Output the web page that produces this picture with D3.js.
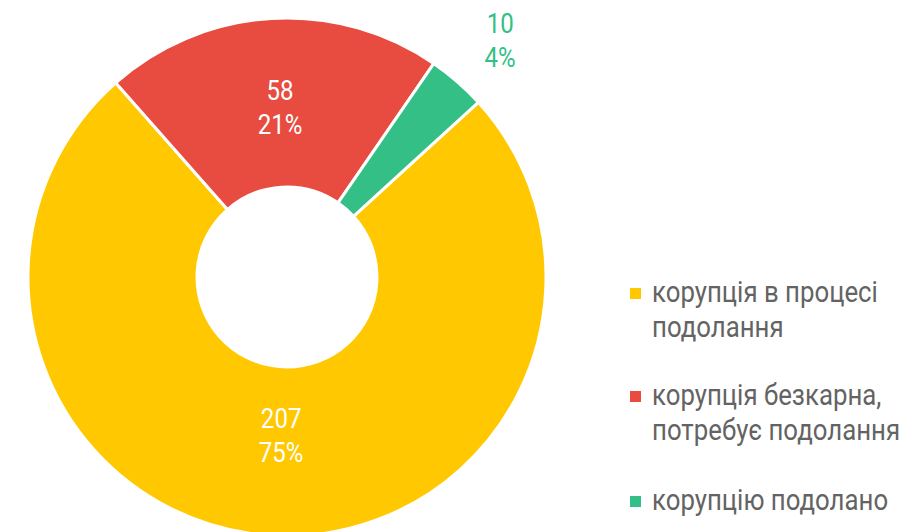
<!DOCTYPE html>
<html>
<head>
<meta charset="utf-8">
<script src="https://cdn.jsdelivr.net/npm/d3@7"></script>
<style>
  body { margin: 0; background: #fff; }
  text { font-family: Roboto, sans-serif; }
</style>
</head>
<body>
<div id="chart"></div>
<script>
// data
const categories = ['корупція в процесі подолання', 'корупція безкарна, потребує подолання', 'корупцію подолано'];
const legendLines = [['корупція в процесі', 'подолання'], ['корупція безкарна,', 'потребує подолання'], ['корупцію подолано']];
const values = [207, 58, 10];
const colors = ['#FFC800', '#E84B3F', '#33BF85'];

const width = 922, height = 532;
const cx = 287, cy = 277;
const outerR = 259, innerR = 90;
const squeeze = 0.86; // fake condensed face

const total = d3.sum(values);
const data = values.map((v, i) => ({ name: categories[i], value: v, color: colors[i], pct: Math.round(v / total * 100) + '%' }));

const start = 47.6 * Math.PI / 180;
const pie = d3.pie().sort(null).value(d => d.value)
  .startAngle(start).endAngle(start + 2 * Math.PI);
const arc = d3.arc().innerRadius(innerR).outerRadius(outerR);
const labelArc = d3.arc().innerRadius(164).outerRadius(164);
const outArc = d3.arc().innerRadius(320).outerRadius(320);

const svg = d3.select('#chart').append('svg')
  .attr('width', width)
  .attr('height', height);

const g = svg.append('g')
  .attr('transform', 'translate(' + cx + ',' + cy + ')');

const arcs = pie(data);

g.selectAll('path')
  .data(arcs)
  .enter().append('path')
  .attr('d', arc)
  .attr('fill', d => d.data.color)
  .attr('stroke', '#fff')
  .attr('stroke-width', 3);

// slice labels: inside when the slice is big, outside otherwise
arcs.forEach(d => {
  const inside = d.data.value / total > 0.1;
  const p = inside ? labelArc.centroid(d) : outArc.centroid(d);
  const dy1 = inside ? -13 : -3;
  const lab = g.append('g')
    .attr('transform', 'translate(' + (p[0] + 3) + ',' + p[1] + ') scale(' + squeeze + ',1)');
  lab.append('text')
    .attr('y', dy1)
    .attr('text-anchor', 'middle')
    .attr('font-size', 28)
    .attr('fill', inside ? '#fff' : d.data.color)
    .text(d.data.value);
  lab.append('text')
    .attr('y', dy1 + 34)
    .attr('text-anchor', 'middle')
    .attr('font-size', 28)
    .attr('fill', inside ? '#fff' : d.data.color)
    .text(d.data.pct);
});

// legend
const legendTop = [302, 405, 510];
const legend = svg.append('g');
data.forEach((d, i) => {
  legend.append('rect')
    .attr('x', 630)
    .attr('y', legendTop[i] - 14)
    .attr('width', 11)
    .attr('height', 11)
    .attr('fill', d.color);
  const t = legend.append('g')
    .attr('transform', 'translate(652,' + legendTop[i] + ') scale(' + squeeze + ',1)');
  legendLines[i].forEach((line, j) => {
    t.append('text')
      .attr('y', j * 35)
      .attr('font-size', 30)
      .attr('fill', '#636363')
      .text(line);
  });
});
</script>
</body>
</html>
